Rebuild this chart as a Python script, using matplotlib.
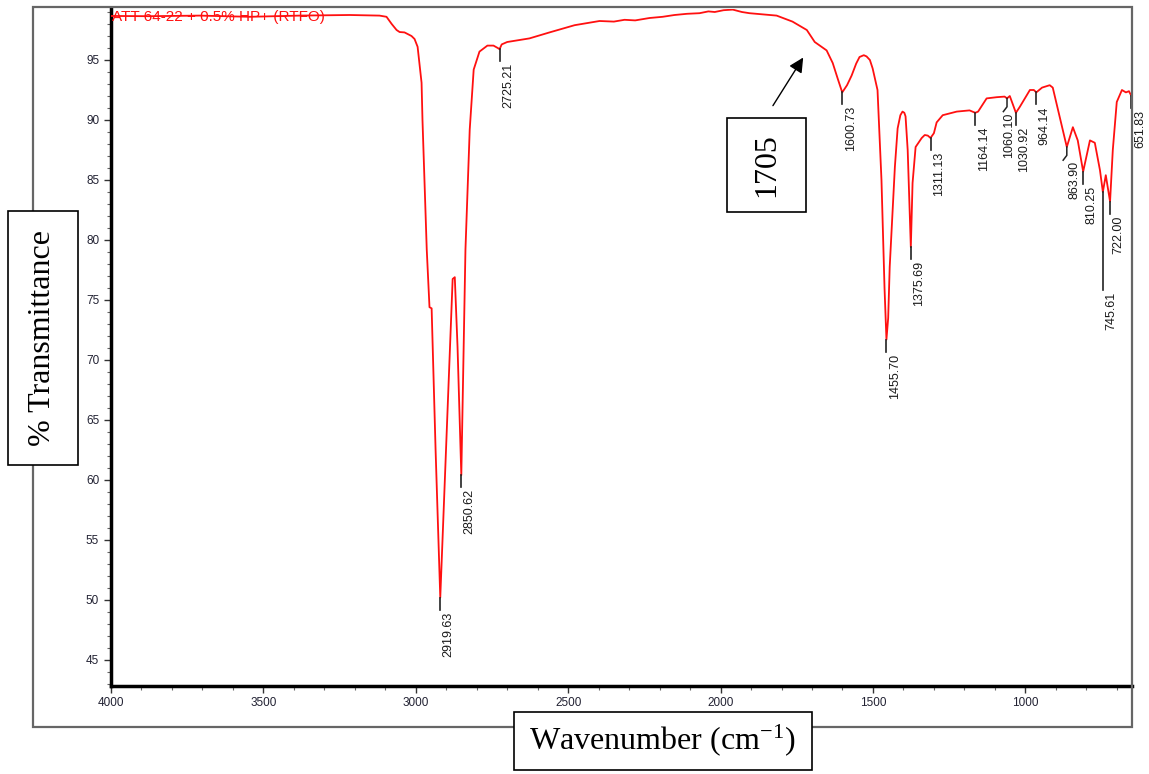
import numpy as np
import matplotlib
matplotlib.use("Agg")
import matplotlib.pyplot as plt
from matplotlib.patches import Rectangle
from matplotlib.ticker import MultipleLocator

plt.rcParams['font.family'] = ['Liberation Sans', 'DejaVu Sans']
plt.rcParams['mathtext.fontset'] = 'stix'

# spectrum (wavenumber cm-1, % transmittance)
wavenumber = [4000, 3874, 3710, 3545, 3381, 3217, 3119, 3096, 3079, 3063, 3053,
              3037, 3014, 3004, 2994, 2981, 2978, 2964, 2955, 2948, 2935, 2919.63,
              2879, 2872, 2863, 2850.62, 2837, 2823, 2810, 2791, 2765, 2745, 2731,
              2725.21, 2718, 2700, 2676, 2627, 2561, 2479, 2397, 2350, 2315, 2280,
              2233, 2190, 2151, 2110, 2069, 2040, 2019, 1990, 1960, 1930, 1905,
              1860, 1816, 1764, 1717, 1691, 1652, 1632, 1615, 1600.73, 1585, 1570,
              1555, 1544, 1530, 1521, 1510, 1501, 1485, 1472, 1462, 1455.70, 1450,
              1445, 1428, 1419, 1410, 1403, 1397, 1393, 1386, 1375.69, 1370, 1360,
              1340, 1330, 1320, 1311.13, 1300, 1291, 1271, 1225, 1183, 1164.14,
              1155, 1127, 1094, 1068, 1060.10, 1051, 1030.92, 1018, 985, 972,
              964.14, 945, 920, 910, 887, 863.90, 844, 828, 810.25, 788, 772, 755,
              745.61, 736, 722.00, 713, 700, 683, 670, 660, 651.83, 650]
transmittance = [98.67, 98.65, 98.7, 98.6, 98.7, 98.75, 98.7, 98.6, 98.0, 97.5, 97.33,
                 97.3, 97.0, 96.75, 96.1, 93.1, 90.0, 79.2, 74.4, 74.3, 62.5, 50.2,
                 76.75, 76.9, 71.1, 60.4, 79.2, 89.2, 94.2, 95.7, 96.2, 96.2, 96.0,
                 95.9, 96.3, 96.5, 96.6, 96.8, 97.3, 97.9, 98.25, 98.2, 98.35, 98.3,
                 98.5, 98.6, 98.75, 98.85, 98.9, 99.05, 99.0, 99.15, 99.2, 99.0, 98.9,
                 98.8, 98.7, 98.2, 97.5, 96.5, 95.8, 94.75, 93.4, 92.3, 92.9, 93.7,
                 94.7, 95.25, 95.4, 95.3, 95.0, 94.3, 92.5, 85.0, 76.0, 71.7, 73.5,
                 77.75, 86.1, 89.3, 90.4, 90.7, 90.6, 90.3, 87.5, 79.4, 84.75, 87.75,
                 88.5, 88.75, 88.7, 88.5, 88.9, 89.8, 90.4, 90.7, 90.8, 90.6,
                 90.7, 91.8, 91.9, 91.95, 91.8, 92.0, 90.6, 91.1, 92.5, 92.5,
                 92.3, 92.7, 92.9, 92.7, 90.25, 87.75, 89.4, 88.3, 85.7, 88.3, 88.1,
                 85.8, 84.0, 85.4, 83.2, 87.5, 91.5, 92.5, 92.3, 92.4, 92.0, 91.9]

peaks = [2919.63, 2850.62, 2725.21, 1600.73, 1455.70, 1375.69, 1311.13, 1164.14,
         1060.10, 1030.92, 964.14, 863.90, 810.25, 745.61, 722.00, 651.83]
peak_tick = [1.0] * len(peaks)
peak_tick[peaks.index(745.61)] = 8.2
hooked = [1060.10, 863.90]

title = "ATT 64-22 + 0.5% HP+ (RTFO)"

W, H = 1149, 774
fig = plt.figure(figsize=(W / 100, H / 100), dpi=100)
ax = fig.add_axes([111 / W, 1 - 686 / H, (1132 - 111) / W, (686 - 9) / H])

wn = np.array(wavenumber)
tr = np.array(transmittance)
ax.plot(wn, tr, color='#ff1010', lw=1.3, zorder=3)

# peak markers and labels
for p, L in zip(peaks, peak_tick):
    yv = np.interp(p, wn[::-1], tr[::-1])
    dx = -8
    if p in hooked:
        ax.plot([p, p, p + 12], [yv, yv - 0.7, yv - 1.1], color='#222222', lw=1.1, zorder=4)
        dx = 14 if p == 1060.10 else -6
    else:
        ax.plot([p, p], [yv, yv - L], color='#222222', lw=1.2, zorder=4)
    ax.text(p + dx, yv - L - 0.15, "%.2f" % p, rotation=90, ha='left', va='top',
            fontsize=9, color='#1a1a1a', clip_on=False)

ax.text(3998, 98.6, title, color='#ff1010', fontsize=11, va='center', ha='left')

ax.set_xlim(4000, 650)
ax.set_ylim(42.83, 99.25)
ax.set_xticks([4000, 3500, 3000, 2500, 2000, 1500, 1000])
ax.set_yticks(range(45, 100, 5))
ax.xaxis.set_minor_locator(MultipleLocator(100))
ax.yaxis.set_minor_locator(MultipleLocator(1))
ax.tick_params(axis='both', which='major', length=5, width=1, labelsize=8.5,
               labelcolor='#222233', color='#333333')
ax.tick_params(axis='both', which='minor', length=3, width=0.8, color='#666666')
ax.tick_params(axis='x', pad=3)
for s in ['top', 'right']:
    ax.spines[s].set_visible(False)
for s in ['left', 'bottom']:
    ax.spines[s].set_linewidth(2.5)

# arrow pointing at the 1705 shoulder
ax.annotate('', xy=(1724, 95.4), xytext=(1833, 91.0),
            arrowprops=dict(arrowstyle='-|>', color='black', lw=1, mutation_scale=22))


def fbox(x0, y0, x1, y1, **kw):
    # box given in image pixels (top-left origin)
    r = Rectangle((x0 / W, 1 - y1 / H), (x1 - x0) / W, (y1 - y0) / H,
                  transform=fig.transFigure, **kw)
    fig.patches.append(r)
    return r


# outer frame
fbox(33, 7, 1132, 727, fill=False, edgecolor='#666666', lw=1.6, zorder=5)

fbox(727, 118, 806, 212, facecolor='white', edgecolor='black', lw=1.2, zorder=6)
fig.text(766.5 / W, 1 - 165 / H, "1705", rotation=90, ha='center', va='center',
         fontsize=23, family='Liberation Serif', zorder=7)

fbox(8, 211, 78, 465, facecolor='white', edgecolor='black', lw=1.2, zorder=6)
fig.text(43 / W, 1 - 338 / H, "% Transmittance", rotation=90, ha='center',
         va='center', fontsize=23, family='Liberation Serif', zorder=7)

fbox(514, 712, 812, 770, facecolor='white', edgecolor='black', lw=1.2, zorder=6)
fig.text(663 / W, 1 - 741 / H, r"Wavenumber (cm$^{\mathregular{-1}}$)", ha='center',
         va='center', fontsize=23, family='Liberation Serif', zorder=7)

fig.savefig("out.png", dpi=100)
